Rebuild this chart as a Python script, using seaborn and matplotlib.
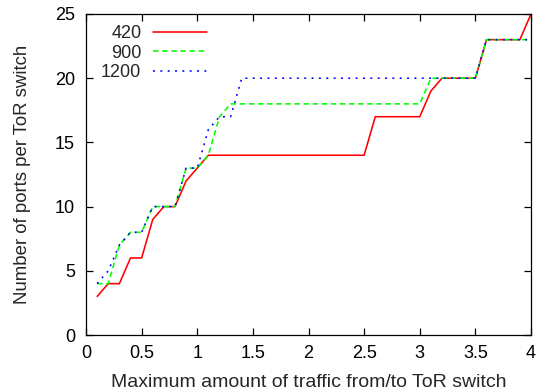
import matplotlib
matplotlib.use("Agg")
import matplotlib.pyplot as plt
import numpy as np
import pandas as pd
import seaborn as sns

# Maximum traffic levels (x) sampled every 0.1
traffic = [round(0.1 * i, 1) for i in range(1, 41)]

ports_420 = [3, 4, 4, 6, 6, 9, 10, 10, 12, 13, 14,
             14, 14, 14, 14, 14, 14, 14, 14, 14, 14, 14, 14, 14, 14,
             17, 17, 17, 17, 17,
             19, 20, 20, 20, 20,
             23, 23, 23, 23, 25]

ports_900 = [4, 4, 7, 8, 8, 10, 10, 10, 13, 13, 14, 17, 18,
             18, 18, 18, 18, 18, 18, 18, 18, 18, 18, 18, 18, 18, 18, 18, 18, 18,
             20, 20, 20, 20, 20,
             23, 23, 23, 23, 23]

ports_1200 = [4, 5, 7, 8, 8, 10, 10, 10, 13, 13, 16, 17, 17,
              20, 20, 20, 20, 20, 20, 20, 20, 20, 20, 20, 20, 20, 20, 20, 20, 20,
              20, 20, 20, 20, 20,
              23, 23, 23, 23, 23]

series_names = ["420", "900", "1200"]
series_values = [ports_420, ports_900, ports_1200]

x_ticks = [0, 0.5, 1, 1.5, 2, 2.5, 3, 3.5, 4]
x_tick_labels = ["0", "0.5", "1", "1.5", "2", "2.5", "3", "3.5", "4"]
y_ticks = [0, 5, 10, 15, 20, 25]

df = pd.DataFrame({
    "traffic": traffic * len(series_names),
    "ports": sum(series_values, []),
    "series": [name for name in series_names for _ in traffic],
})

sns.set_style("ticks")
plt.rcParams["font.family"] = ["Liberation Sans", "DejaVu Sans"]

fig = plt.figure(figsize=(5.42, 3.91), dpi=100)
ax = fig.add_axes([86 / 542, 1 - 335 / 391, (531 - 86) / 542, (335 - 14) / 391])

palette = {"420": "#ff0000", "900": "#00ff00", "1200": "#0000ff"}
dashes = {"420": "", "900": (3.4, 2.3), "1200": (1.2, 3.4)}

sns.lineplot(data=df, x="traffic", y="ports", hue="series", style="series",
             hue_order=series_names, style_order=series_names,
             palette=palette, dashes=dashes, linewidth=1.15, ax=ax,
             legend=True)

ax.set_xlim(0, 4)
ax.set_ylim(0, 25)
ax.set_xticks(x_ticks)
ax.set_xticklabels(x_tick_labels)
ax.set_yticks(y_ticks)
ax.set_xlabel("Maximum amount of traffic from/to ToR switch", fontsize=14,
              labelpad=9)
ax.set_ylabel("Number of ports per ToR switch", fontsize=13.4, labelpad=17)

for side in ["top", "right", "left", "bottom"]:
    ax.spines[side].set_visible(True)
    ax.spines[side].set_linewidth(0.9)
    ax.spines[side].set_color("black")
ax.tick_params(axis="both", which="major", direction="in", length=5, width=0.9,
               top=True, right=True, labelsize=13, colors="black")
ax.tick_params(axis="x", pad=7)
ax.tick_params(axis="y", pad=8)

handles, labels = ax.get_legend_handles_labels()
ax.legend(handles, labels, loc="upper left", frameon=False, markerfirst=False,
          fontsize=13, handlelength=3.0, handletextpad=0.66, labelspacing=0.15,
          borderaxespad=0.1, borderpad=0.4, bbox_to_anchor=(0.0135, 0.994))

fig.savefig("out.png", dpi=100)
